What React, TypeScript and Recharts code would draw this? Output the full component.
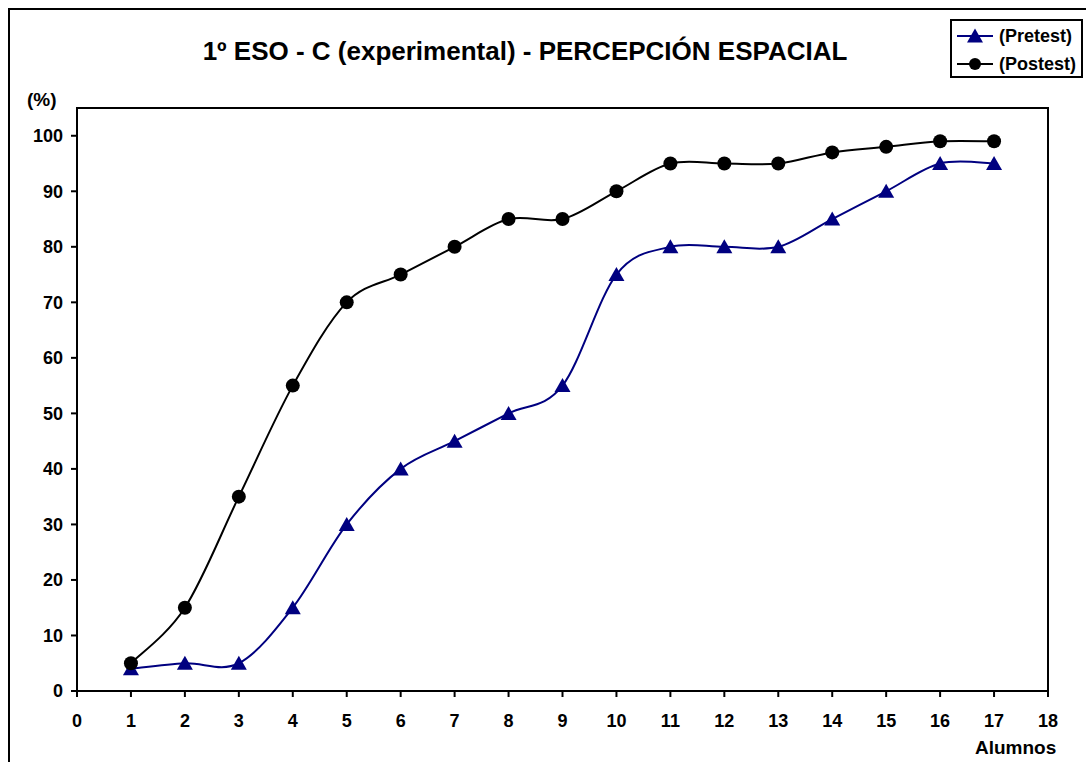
import React from "react";
import { Line, LineChart, ReferenceArea, XAxis, YAxis } from "recharts";

// body margin off so the framed chart fills the window exactly
document.body.style.margin = "0";

const alumnos = [1, 2, 3, 4, 5, 6, 7, 8, 9, 10, 11, 12, 13, 14, 15, 16, 17];
const pretest = [4, 5, 5, 15, 30, 40, 45, 50, 55, 75, 80, 80, 80, 85, 90, 95, 95];
const postest = [5, 15, 35, 55, 70, 75, 80, 85, 85, 90, 95, 95, 95, 97, 98, 99, 99];
const xTicks = [0, 1, 2, 3, 4, 5, 6, 7, 8, 9, 10, 11, 12, 13, 14, 15, 16, 17, 18];
const yTicks = [0, 10, 20, 30, 40, 50, 60, 70, 80, 90, 100];

const data = alumnos.map((a, i) => ({ alumno: a, pretest: pretest[i], postest: postest[i] }));

const NAVY = "#000080";
const FONT = "'Liberation Sans', Arial, sans-serif";

// Excel-like smoothed line (Catmull-Rom as cubic beziers)
const excelSmooth: any = (context: any) => {
  let pts: number[][] = [];
  return {
    areaStart() {},
    areaEnd() {},
    lineStart() {
      pts = [];
    },
    point(x: number, y: number) {
      pts.push([+x, +y]);
    },
    lineEnd() {
      const n = pts.length;
      if (!n) return;
      context.moveTo(pts[0][0], pts[0][1]);
      for (let i = 0; i < n - 1; i++) {
        const p0 = pts[Math.max(i - 1, 0)];
        const p1 = pts[i];
        const p2 = pts[i + 1];
        const p3 = pts[Math.min(i + 2, n - 1)];
        context.bezierCurveTo(
          p1[0] + (p2[0] - p0[0]) / 6,
          p1[1] + (p2[1] - p0[1]) / 6,
          p2[0] - (p3[0] - p1[0]) / 6,
          p2[1] - (p3[1] - p1[1]) / 6,
          p2[0],
          p2[1]
        );
      }
    },
  };
};

const Triangle = ({ cx, cy, fill }: any) => (
  <path d={`M${cx},${cy - 7.5} L${cx + 8},${cy + 6.5} L${cx - 8},${cy + 6.5} Z`} fill={fill} />
);

const renderTriangle = (props: any) => <Triangle key={`t-${props.index}`} cx={props.cx} cy={props.cy} fill={NAVY} />;
const renderCircle = (props: any) => <circle key={`c-${props.index}`} cx={props.cx} cy={props.cy} r={7} fill="#000" />;

const legendItems = [
  { name: "(Pretest)", color: NAVY, mark: "tri" },
  { name: "(Postest)", color: "#000", mark: "dot" },
];

const ChartLegend = () => (
  <div
    style={{
      position: "absolute",
      left: 940,
      top: 9,
      border: "2px solid #000",
      background: "#fff",
      width: 129,
      height: 55,
      fontWeight: "bold",
      fontSize: 18,
      zIndex: 2,
    }}
  >
    {legendItems.map((item, i) => (
      <div key={item.name} style={{ display: "flex", alignItems: "center", height: 28, marginTop: i === 0 ? 1 : 0 }}>
        <svg width={42} height={20} style={{ marginLeft: 3, flex: "none" }}>
          <line x1={2} y1={10} x2={38} y2={10} stroke={item.color} strokeWidth={2} />
          {item.mark === "tri" ? <Triangle cx={20} cy={10} fill={item.color} /> : <circle cx={20} cy={10} r={6} fill={item.color} />}
        </svg>
        <span style={{ marginLeft: 2, whiteSpace: "nowrap" }}>{item.name}</span>
      </div>
    ))}
  </div>
);

const tickStyle = { fill: "#000", fontSize: 18, fontWeight: "bold", fontFamily: FONT };

export default function App() {
  return (
    <div style={{ position: "relative", width: 1086, height: 762, overflow: "hidden", background: "#fff" }}>
      <div
        style={{
          position: "absolute",
          left: 8,
          top: 8,
          width: 1076,
          height: 752,
          borderTop: "2px solid #000",
          borderLeft: "2px solid #000",
          fontFamily: FONT,
        }}
      >
        <div
          style={{
            position: "absolute",
            left: 0,
            top: 26,
            width: 1030,
            textAlign: "center",
            fontSize: 26,
            lineHeight: "30px",
            fontWeight: "bold",
            zIndex: 2,
          }}
        >
          1º ESO - C (experimental) - PERCEPCIÓN ESPACIAL
        </div>
        <div style={{ position: "absolute", left: 17, top: 80, fontSize: 19, lineHeight: "20px", fontWeight: "bold", zIndex: 2 }}>
          (%)
        </div>
        <div style={{ position: "absolute", left: 965, top: 728, fontSize: 19, lineHeight: "20px", fontWeight: "bold", zIndex: 2 }}>
          Alumnos
        </div>
        <ChartLegend />
        <LineChart width={1076} height={752} data={data} margin={{ top: 98, right: 38, left: 7, bottom: 41 }}>
          <ReferenceArea x1={0} x2={18} y1={0} y2={105} fill="none" stroke="#000" strokeWidth={2} />
          <XAxis
            type="number"
            dataKey="alumno"
            domain={[0, 18]}
            ticks={xTicks}
            interval={0}
            height={30}
            tick={tickStyle}
            tickSize={6}
            tickMargin={17}
            axisLine={{ stroke: "#000", strokeWidth: 2 }}
            tickLine={{ stroke: "#000", strokeWidth: 2 }}
          />
          <YAxis
            type="number"
            domain={[0, 105]}
            ticks={yTicks}
            interval={0}
            width={60}
            tick={tickStyle}
            tickSize={6}
            tickMargin={8}
            axisLine={{ stroke: "#000", strokeWidth: 2 }}
            tickLine={{ stroke: "#000", strokeWidth: 2 }}
          />
          <Line
            type={excelSmooth}
            dataKey="pretest"
            name="(Pretest)"
            stroke={NAVY}
            strokeWidth={2}
            dot={renderTriangle}
            activeDot={false}
            isAnimationActive={false}
          />
          <Line
            type={excelSmooth}
            dataKey="postest"
            name="(Postest)"
            stroke="#000"
            strokeWidth={2}
            dot={renderCircle}
            activeDot={false}
            isAnimationActive={false}
          />
        </LineChart>
      </div>
    </div>
  );
}
